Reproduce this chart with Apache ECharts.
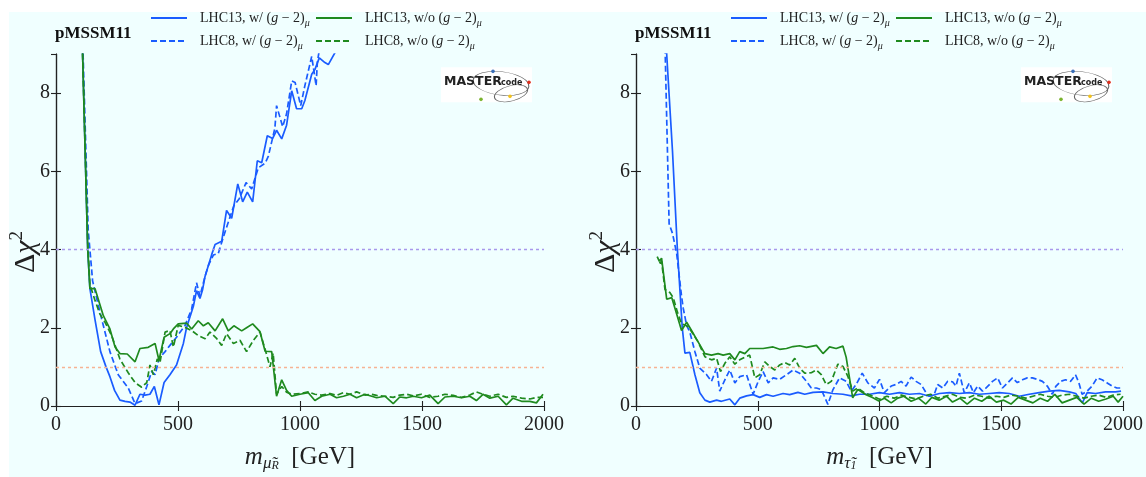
<!DOCTYPE html>
<html>
<head>
<meta charset="utf-8">
<script src="https://cdn.jsdelivr.net/npm/echarts@6/dist/echarts.min.js"></script>
<style>
  html, body { margin: 0; padding: 0; background: #ffffff; overflow: hidden; }
  #chart { width: 1146px; height: 477px; }
</style>
</head>
<body>
<div id="chart"></div>
<script>
// ---- axis ticks ----
const xTicks = [0, 500, 1000, 1500, 2000];
const yTicks = [0, 2, 4, 6, 8];
const yMax = 9;
const refLevels = [4, 1];

// ---- smuon_R panel (GeV, Delta chi^2) ----
const smu13wX = [100, 109, 130, 139, 160, 183, 205, 221, 240, 262, 283, 303, 324, 344, 365, 385, 403, 422, 443, 467, 494, 522, 535, 563, 576, 590, 601, 611, 638, 652, 679, 699, 720, 745, 765, 784, 806, 825, 843, 866, 888, 904, 925, 945, 966, 986, 1007, 1020, 1048, 1061, 1079, 1102, 1116, 1143, 1170, 1200];
const smu13wY = [12, 9.0, 4.0, 3.0, 2.2, 1.39, 1.0, 0.75, 0.4, 0.15, 0.12, 0.1, 0.02, 0.3, 0.28, 0.3, 0.5, 0.03, 0.6, 0.8, 1.05, 1.6, 2.0, 2.55, 2.95, 2.75, 2.98, 3.32, 3.87, 4.13, 4.21, 5.0, 4.8, 5.68, 5.22, 5.47, 5.22, 6.27, 6.22, 6.91, 6.84, 7.05, 6.83, 7.18, 8.06, 7.6, 7.6, 7.81, 8.48, 8.6, 8.9, 8.78, 8.73, 9.03, 9.5, 10];

const smu8wX = [100, 111, 132, 150, 165, 187, 221, 255, 296, 324, 351, 372, 392, 406, 423, 447, 467, 494, 529, 556, 576, 590, 611, 625, 645, 665, 686, 706, 729, 751, 779, 802, 829, 857, 870, 897, 904, 929, 945, 966, 980, 1003, 1020, 1048, 1066, 1071, 1079, 1100];
const smu8wY = [12, 9.0, 4.5, 3.2, 2.8, 2.23, 1.39, 0.8, 0.46, 0.06, 0.13, 0.5, 0.88, 0.8, 1.22, 1.39, 1.55, 1.76, 2.06, 2.48, 3.15, 2.81, 3.32, 3.6, 3.86, 3.9, 4.32, 4.7, 5.12, 5.3, 5.71, 5.55, 6.09, 6.21, 6.38, 7.1, 7.68, 7.14, 7.47, 8.31, 8.27, 7.68, 8.19, 8.94, 8.19, 8.78, 9.1, 9.6];

const smu13woX = [100, 109, 130, 139, 160, 194, 221, 242, 262, 292, 324, 344, 378, 406, 422, 443, 467, 481, 501, 535, 556, 583, 604, 624, 652, 683, 706, 729, 761, 781, 806, 836, 857, 884, 904, 925, 945, 966, 1000, 1034, 1061, 1089, 1123, 1150, 1178, 1205, 1232, 1266, 1294, 1314, 1348, 1382, 1409, 1437, 1464, 1498, 1532, 1566, 1594, 1628, 1662, 1696, 1723, 1750, 1778, 1812, 1846, 1873, 1908, 1942, 1969, 1996];
const smu13woY = [12, 9.0, 4.0, 3.0, 3.0, 2.31, 1.97, 1.51, 1.34, 1.33, 1.13, 1.47, 1.5, 1.6, 1.17, 1.76, 1.85, 1.97, 2.1, 2.12, 1.97, 2.18, 2.05, 2.13, 1.92, 2.23, 1.92, 2.05, 1.92, 2.0, 2.1, 1.9, 1.4, 1.39, 0.25, 0.67, 0.4, 0.25, 0.3, 0.34, 0.14, 0.25, 0.3, 0.21, 0.25, 0.3, 0.21, 0.3, 0.25, 0.21, 0.25, 0.06, 0.23, 0.21, 0.25, 0.21, 0.28, 0.06, 0.23, 0.25, 0.21, 0.25, 0.14, 0.3, 0.2, 0.25, 0.03, 0.2, 0.12, 0.12, 0.08, 0.3];

const smu8woX = [100, 109, 130, 139, 160, 180, 201, 228, 262, 296, 324, 351, 372, 385, 399, 415, 426, 447, 467, 481, 501, 529, 556, 583, 611, 631, 659, 679, 699, 727, 754, 781, 809, 836, 857, 877, 890, 904, 925, 945, 966, 1000, 1034, 1061, 1089, 1123, 1150, 1178, 1205, 1232, 1266, 1294, 1314, 1348, 1382, 1409, 1437, 1464, 1498, 1532, 1566, 1594, 1628, 1662, 1696, 1723, 1750, 1778, 1812, 1846, 1873, 1908, 1942, 1969, 1996];
const smu8woY = [12, 9.0, 4.2, 3.1, 2.7, 2.35, 2.14, 1.8, 1.2, 0.85, 0.6, 0.48, 0.6, 1.05, 0.8, 1.2, 1.1, 1.89, 1.93, 1.51, 2.06, 2.01, 1.93, 1.8, 1.72, 1.89, 1.72, 1.55, 1.85, 1.6, 1.68, 1.39, 1.68, 1.89, 1.45, 1.0, 1.35, 0.3, 0.5, 0.35, 0.3, 0.32, 0.36, 0.3, 0.28, 0.32, 0.27, 0.34, 0.3, 0.36, 0.28, 0.3, 0.27, 0.25, 0.22, 0.28, 0.3, 0.26, 0.3, 0.22, 0.25, 0.3, 0.27, 0.22, 0.28, 0.36, 0.3, 0.25, 0.3, 0.22, 0.25, 0.2, 0.18, 0.22, 0.22];

// ---- stau_1 panel (GeV, Delta chi^2) ----
const stau13wX = [120, 126, 150, 170, 190, 201, 221, 242, 262, 283, 303, 331, 351, 385, 406, 426, 454, 481, 508, 536, 563, 604, 631, 665, 693, 727, 768, 809, 850, 884, 918, 959, 1000, 1041, 1082, 1123, 1164, 1205, 1246, 1287, 1328, 1369, 1410, 1451, 1492, 1533, 1574, 1615, 1656, 1697, 1738, 1779, 1806, 1833, 1853, 1887, 1928, 1969, 1992];
const stau13wY = [11, 9.0, 6.5, 4.0, 2.0, 1.35, 1.37, 0.8, 0.34, 0.15, 0.1, 0.15, 0.12, 0.18, 0.03, 0.2, 0.26, 0.29, 0.22, 0.29, 0.25, 0.32, 0.29, 0.35, 0.3, 0.35, 0.36, 0.32, 0.3, 0.26, 0.3, 0.3, 0.34, 0.3, 0.34, 0.3, 0.32, 0.25, 0.32, 0.34, 0.32, 0.34, 0.3, 0.32, 0.34, 0.32, 0.25, 0.3, 0.34, 0.38, 0.4, 0.36, 0.32, 0.08, 0.34, 0.32, 0.36, 0.36, 0.38];

const stau8wX = [112, 120, 136, 150, 167, 187, 194, 208, 221, 242, 262, 290, 310, 331, 344, 365, 385, 406, 426, 454, 481, 502, 522, 543, 563, 590, 618, 645, 672, 700, 720, 741, 761, 788, 809, 836, 863, 884, 904, 929, 952, 979, 1000, 1020, 1048, 1068, 1089, 1109, 1130, 1150, 1171, 1191, 1205, 1225, 1239, 1260, 1280, 1300, 1314, 1328, 1348, 1369, 1386, 1403, 1423, 1444, 1464, 1485, 1505, 1526, 1546, 1566, 1587, 1607, 1628, 1648, 1669, 1689, 1710, 1724, 1744, 1764, 1785, 1805, 1819, 1832, 1853, 1873, 1894, 1914, 1935, 1955, 1975, 1992];
const stau8wY = [11, 9.0, 4.66, 4.41, 3.9, 2.81, 2.5, 2.06, 1.89, 1.39, 0.97, 0.8, 0.63, 0.97, 0.38, 0.67, 0.92, 0.59, 0.75, 0.8, 0.3, 0.63, 0.88, 0.59, 0.72, 0.68, 0.8, 0.92, 0.84, 0.63, 0.46, 0.46, 0.42, 0.04, 0.42, 0.72, 0.63, 0.38, 0.55, 0.84, 0.59, 0.46, 0.68, 0.34, 0.51, 0.55, 0.63, 0.51, 0.74, 0.63, 0.55, 0.34, 0.25, 0.3, 0.55, 0.46, 0.63, 0.62, 0.51, 0.84, 0.34, 0.59, 0.34, 0.51, 0.38, 0.5, 0.63, 0.72, 0.46, 0.59, 0.72, 0.6, 0.67, 0.72, 0.72, 0.68, 0.63, 0.51, 0.3, 0.5, 0.63, 0.67, 0.63, 0.8, 0.59, 0.3, 0.38, 0.51, 0.72, 0.67, 0.59, 0.51, 0.46, 0.46];

const stau13woX = [87, 96, 105, 126, 147, 167, 187, 208, 228, 255, 283, 310, 337, 358, 385, 406, 426, 447, 467, 522, 563, 590, 618, 645, 672, 700, 741, 768, 795, 822, 850, 863, 890, 911, 945, 973, 997, 1020, 1048, 1075, 1100, 1130, 1160, 1190, 1215, 1245, 1275, 1300, 1330, 1360, 1390, 1420, 1450, 1480, 1510, 1540, 1570, 1600, 1630, 1660, 1690, 1720, 1750, 1780, 1810, 1840, 1870, 1900, 1930, 1960, 1980, 2000];
const stau13woY = [3.82, 3.7, 3.78, 2.73, 2.77, 2.35, 1.93, 2.14, 1.93, 1.64, 1.34, 1.3, 1.34, 1.3, 1.34, 1.18, 1.39, 1.34, 1.47, 1.47, 1.51, 1.45, 1.47, 1.52, 1.54, 1.5, 1.55, 1.34, 1.51, 1.47, 1.53, 1.25, 0.21, 0.42, 0.29, 0.21, 0.13, 0.2, 0.08, 0.2, 0.25, 0.12, 0.2, 0.05, 0.22, 0.15, 0.25, 0.1, 0.2, 0.05, 0.2, 0.12, 0.25, 0.1, 0.15, 0.05, 0.22, 0.15, 0.08, 0.2, 0.12, 0.3, 0.08, 0.15, 0.22, 0.05, 0.2, 0.12, 0.18, 0.25, 0.1, 0.25];

const stau8woX = [96, 105, 119, 139, 153, 170, 187, 208, 221, 255, 283, 310, 331, 347, 365, 385, 406, 426, 447, 467, 488, 508, 529, 549, 570, 590, 611, 631, 652, 672, 693, 720, 741, 761, 781, 802, 829, 850, 870, 890, 911, 938, 973, 1000, 1030, 1060, 1090, 1120, 1150, 1180, 1210, 1240, 1270, 1300, 1330, 1360, 1390, 1420, 1450, 1480, 1510, 1540, 1570, 1600, 1630, 1660, 1690, 1720, 1750, 1780, 1810, 1840, 1870, 1900, 1930, 1960, 1990];
const stau8woY = [3.65, 3.7, 2.98, 2.9, 2.77, 2.4, 2.1, 2.05, 1.97, 1.64, 1.26, 1.18, 1.22, 0.88, 1.09, 1.26, 1.07, 1.18, 1.25, 1.3, 0.72, 0.8, 1.13, 1.01, 0.92, 1.05, 1.11, 1.05, 1.22, 0.97, 0.84, 0.85, 0.92, 0.8, 0.55, 0.63, 1.07, 1.01, 0.76, 0.38, 0.46, 0.34, 0.25, 0.17, 0.25, 0.2, 0.28, 0.22, 0.18, 0.25, 0.3, 0.2, 0.25, 0.3, 0.22, 0.2, 0.28, 0.25, 0.2, 0.25, 0.22, 0.28, 0.25, 0.2, 0.25, 0.3, 0.25, 0.22, 0.28, 0.3, 0.25, 0.2, 0.25, 0.28, 0.22, 0.28, 0.3];

// ---- series labels ----
const seriesNames = ['LHC13, w/ (g-2)mu', 'LHC8, w/ (g-2)mu', 'LHC13, w/o (g-2)mu', 'LHC8, w/o (g-2)mu'];
const legendPrefix = ['LHC13, w/ ', 'LHC8, w/ ', 'LHC13, w/o ', 'LHC8, w/o '];

// ---- styling ----
const BLUE = '#1a5cff';
const GREEN = '#1f8a1f';
const INK = '#222222';
const SERIF = '"Liberation Serif", "DejaVu Serif", serif';

const pts = (xs, ys) => xs.map((x, i) => [x, ys[i]]);

const panels = [
  { grid: { left: 56, top: 54, width: 488, height: 358 },
    data: [[smu13wX, smu13wY], [smu8wX, smu8wY], [smu13woX, smu13woY], [smu8woX, smu8woY]],
    xName: '{m|m}{s|μ̃}{ss|R}{t|  [GeV]}', dx: 0 },
  { grid: { left: 636, top: 54, width: 488, height: 358 },
    data: [[stau13wX, stau13wY], [stau8wX, stau8wY], [stau13woX, stau13woY], [stau8woX, stau8woY]],
    xName: '{m|m}{s|τ̃}{ss|1}{t|  [GeV]}', dx: 580 }
];

const grids = [], xAxes = [], yAxes = [], series = [], legends = [], graphics = [];

const axisLineStyle = { lineStyle: { color: INK, width: 1.2 } };
const tickStyle = { inside: true, length: 5, lineStyle: { color: INK, width: 1.1 } };
const nameRich = {
  m: { fontFamily: SERIF, fontStyle: 'italic', fontSize: 25, lineHeight: 30, verticalAlign: 'middle', color: INK },
  s: { fontFamily: SERIF, fontStyle: 'italic', fontSize: 17, lineHeight: 18, verticalAlign: 'bottom', color: INK },
  ss: { fontFamily: SERIF, fontStyle: 'italic', fontSize: 12, lineHeight: 8, verticalAlign: 'bottom', color: INK },
  t: { fontFamily: SERIF, fontSize: 25, lineHeight: 30, verticalAlign: 'middle', color: INK }
};
const yNameRich = {
  a: { fontFamily: SERIF, fontSize: 30, lineHeight: 36, verticalAlign: 'middle', fill: INK },
  ai: { fontFamily: SERIF, fontStyle: 'italic', fontSize: 30, lineHeight: 36, verticalAlign: 'middle', fill: INK },
  sup: { fontFamily: SERIF, fontSize: 19, lineHeight: 19, verticalAlign: 'top', fill: INK }
};
const legendRich = {
  a: { fontFamily: SERIF, fontSize: 14, lineHeight: 20, verticalAlign: 'middle', color: INK, padding: [0, 0, 0, 8] },
  g: { fontFamily: SERIF, fontSize: 14, lineHeight: 20, verticalAlign: 'middle', color: INK },
  i: { fontFamily: SERIF, fontStyle: 'italic', fontSize: 14, lineHeight: 20, verticalAlign: 'middle', color: INK },
  s: { fontFamily: SERIF, fontStyle: 'italic', fontSize: 10, lineHeight: 10, verticalAlign: 'bottom', color: INK }
};
const plainNum = v => String(v);

panels.forEach((p, gi) => {
  grids.push(p.grid);
  const xBase = {
    type: 'value', gridIndex: gi, min: xTicks[0], max: xTicks[xTicks.length - 1],
    interval: xTicks[1] - xTicks[0], splitLine: { show: false },
    axisLine: axisLineStyle, axisTick: tickStyle
  };
  const yBase = {
    type: 'value', gridIndex: gi, min: yTicks[0], max: yMax,
    interval: yTicks[1] - yTicks[0], splitLine: { show: false },
    axisLine: axisLineStyle, axisTick: tickStyle
  };
  xAxes.push(Object.assign({}, xBase, {
    position: 'bottom',
    axisLabel: { fontFamily: SERIF, fontSize: 20, color: INK, margin: 9, formatter: plainNum },
    name: p.xName, nameLocation: 'middle', nameGap: 36,
    nameTextStyle: { rich: nameRich }
  }));
  xAxes.push(Object.assign({}, xBase, { position: 'top', axisLabel: { show: false } }));
  yAxes.push(Object.assign({}, yBase, {
    position: 'left',
    axisLabel: { fontFamily: SERIF, fontSize: 20, color: INK, margin: 6, showMaxLabel: false, formatter: plainNum }
  }));
  yAxes.push(Object.assign({}, yBase, { position: 'right', axisLabel: { show: false } }));

  p.data.forEach((d, si) => {
    const s = {
      name: seriesNames[si], type: 'line',
      xAxisIndex: gi * 2, yAxisIndex: gi * 2,
      data: pts(d[0], d[1]), symbol: 'none', clip: true,
      lineStyle: {
        color: si < 2 ? BLUE : GREEN,
        width: 1.7,
        type: si % 2 === 1 ? [6, 3] : 'solid'
      },
      itemStyle: { color: si < 2 ? BLUE : GREEN },
      z: 3, animation: false
    };
    // reference levels: one on each of the first two curves
    if (si < 2) {
      s.markLine = {
        silent: true, symbol: ['none', 'none'], animation: false,
        label: { show: false },
        lineStyle: { color: si === 0 ? '#a898ec' : '#f7b394', type: [3, 3], width: 1.3, opacity: 1 },
        emphasis: { disabled: true },
        data: [{ yAxis: refLevels[si] }]
      };
    }
    series.push(s);
  });

  // y-axis title
  graphics.push({
    type: 'text', x: 26 + p.dx, y: 252, rotation: Math.PI / 2, z: 10,
    style: {
      text: '{a|Δ}{ai|χ}{sup|2}', align: 'center', verticalAlign: 'middle',
      rich: yNameRich
    }
  });

  // legend: one block per entry, laid out in two rows and two columns
  const cols = [150 + p.dx, 315 + p.dx];
  const rows = [11, 34];
  const order = [[0, 0, 0], [1, 1, 0], [2, 0, 1], [3, 1, 1]]; // [series, row, col]
  order.forEach(([si, r, c]) => {
    legends.push({
      data: [seriesNames[si]], left: cols[c], top: rows[r], padding: 0,
      itemWidth: 36, itemHeight: 14, selectedMode: false,
      itemStyle: { opacity: 0, borderWidth: 0 },
      formatter: () => '{a|' + legendPrefix[si] + '}{g|(}{i|g}{g| − 2)}{s|μ}',
      textStyle: { rich: legendRich }
    });
  });

  // panel tag
  graphics.push({
    type: 'text', left: 55 + p.dx, top: 25, z: 10,
    style: { text: 'pMSSM11', font: 'bold 17px ' + SERIF, fill: '#111' }
  });

  // collaboration logo
  graphics.push({
    type: 'group', left: 441 + p.dx, top: 67, z: 10,
    children: [
      { type: 'rect', shape: { x: 0, y: 0, width: 91, height: 35 }, style: { fill: '#ffffff' } },
      { type: 'circle', shape: { cx: 0, cy: 0, r: 28 }, x: 60, y: 16, scaleY: 0.42, rotation: -0.12,
        style: { fill: 'none', stroke: '#666', lineWidth: 1.1 } },
      { type: 'circle', shape: { cx: 0, cy: 0, r: 17 }, x: 70, y: 26, scaleY: 0.45, rotation: 0.25,
        style: { fill: 'none', stroke: '#666', lineWidth: 1.1 } },
      { type: 'text', x: 3, y: 8, style: { text: 'MASTER', font: 'bold 12.5px "DejaVu Sans", sans-serif', fill: '#222' } },
      { type: 'text', x: 60, y: 12, style: { text: 'code', font: 'bold 8px "DejaVu Sans", sans-serif', fill: '#222' } },
      { type: 'circle', shape: { cx: 52, cy: 4, r: 1.8 }, style: { fill: '#3a6fb8' } },
      { type: 'circle', shape: { cx: 88, cy: 15, r: 1.8 }, style: { fill: '#e0301e' } },
      { type: 'circle', shape: { cx: 40, cy: 32, r: 1.8 }, style: { fill: '#7ab32e' } },
      { type: 'circle', shape: { cx: 69, cy: 29, r: 1.8 }, style: { fill: '#f2c21c' } }
    ]
  });
});

// tinted backdrop
graphics.unshift({
  type: 'rect', left: 9, top: 12, z: -10, silent: true,
  shape: { width: 1137, height: 465 }, style: { fill: '#f0ffff' }
});

const chart = echarts.init(document.getElementById('chart'), null, { renderer: 'canvas' });
chart.setOption({
  animation: false,
  backgroundColor: 'transparent',
  grid: grids,
  xAxis: xAxes,
  yAxis: yAxes,
  legend: legends,
  graphic: graphics,
  series: series
});
</script>
</body>
</html>
